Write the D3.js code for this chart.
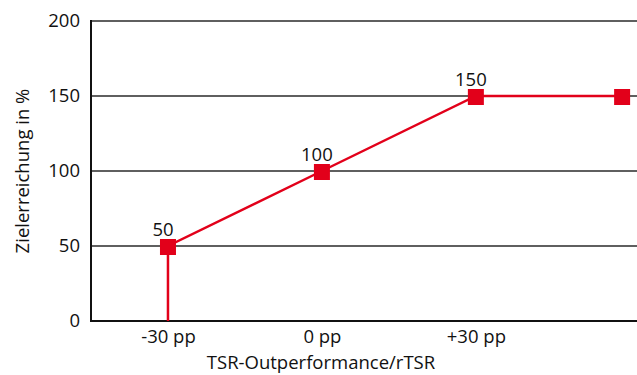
<!DOCTYPE html>
<html><head><meta charset="utf-8">
<script src="https://cdn.jsdelivr.net/npm/d3@7"></script>
<style>body{margin:0;background:#fff}svg{display:block}text{font-family:"Open Sans",sans-serif;fill:#111}</style>
</head><body>
<svg id="c" width="637" height="375"></svg>
<script>
const xValues = [-30, -30, 0, 30, 58.5];
const yValues = [0, 50, 100, 150, 150];
const showMarker = [false, true, true, true, true];
const dataLabels = ["", "50", "100", "150", ""];
const xTickValues = [-30, 0, 30];
const xTickLabels = ["-30 pp", "0 pp", "+30 pp"];
const yTickValues = [0, 50, 100, 150, 200];
const xTitle = "TSR-Outperformance/rTSR";
const yTitle = "Zielerreichung in %";

(function () {
const svg = d3.select("#c");
const mL = 91, mR = 637, mT = 21, mB = 321;
const x = d3.scaleLinear().domain([-45, 61.4]).range([mL, mR]);
const y = d3.scaleLinear().domain([0, 200]).range([mB, mT]);
const red = "#e2001a";
const fs = "18.5px";

// gridlines
svg.append("g").selectAll("line").data(yTickValues.filter(v => v > 0)).join("line")
  .attr("x1", mL).attr("x2", mR).attr("y1", d => y(d)).attr("y2", d => y(d))
  .attr("stroke", "#2a2a2a").attr("stroke-width", 1.5);

// y axis
const ya = svg.append("g").attr("transform", `translate(${mL},0)`)
  .call(d3.axisLeft(y).tickValues(yTickValues).tickSize(0).tickPadding(11));
ya.select(".domain").remove();
ya.selectAll("text").style("font-size", fs).attr("fill", "#111");

// x axis
const xa = svg.append("g").attr("transform", `translate(0,${mB})`)
  .call(d3.axisBottom(x).tickValues(xTickValues).tickFormat((d, i) => xTickLabels[i]).tickSize(0).tickPadding(9));
xa.select(".domain").remove();
xa.selectAll("text").style("font-size", fs).attr("fill", "#111");

// axis lines
svg.append("line").attr("x1", mL).attr("x2", mL).attr("y1", mT - 1).attr("y2", mB + 1)
  .attr("stroke", "#111").attr("stroke-width", 2);
svg.append("line").attr("x1", mL - 1).attr("x2", mR).attr("y1", mB).attr("y2", mB)
  .attr("stroke", "#111").attr("stroke-width", 2);

// data line
const pts = xValues.map((v, i) => ({x: v, y: yValues[i], m: showMarker[i], l: dataLabels[i]}));
svg.append("path").datum(pts)
  .attr("d", d3.line().x(d => x(d.x)).y(d => y(d.y)))
  .attr("fill", "none").attr("stroke", red).attr("stroke-width", 2.5);

svg.append("g").selectAll("rect").data(pts.filter(d => d.m)).join("rect")
  .attr("x", d => x(d.x) - 8).attr("y", d => y(d.y) - 7).attr("width", 16).attr("height", 16)
  .attr("fill", red);

svg.append("g").selectAll("text").data(pts.filter(d => d.l)).join("text")
  .attr("x", d => x(d.x) - 5).attr("y", d => y(d.y) - 10)
  .attr("text-anchor", "middle").style("font-size", fs).text(d => d.l);

// titles
svg.append("text").attr("x", 321).attr("y", 369)
  .attr("text-anchor", "middle").style("font-size", fs).text(xTitle);
svg.append("text").attr("transform", `translate(29,${(mT + mB) / 2}) rotate(-90)`)
  .attr("text-anchor", "middle").style("font-size", fs).text(yTitle);
})();
</script>
</body></html>
